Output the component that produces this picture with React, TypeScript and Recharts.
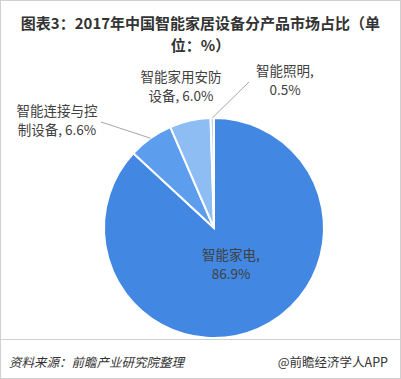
import { PieChart, Pie, Cell } from "recharts";

const categories = ["智能家电", "智能连接与控制设备", "智能家用安防设备", "智能照明"];
const shares = [86.9, 6.6, 6.0, 0.5];
const colors = ["#4288e2", "#5d9ded", "#8ebdf4", "#bcd7f8"];

// where each label sits relative to the pie centre, and where the text breaks
const labelLayout = [
  { dx: 17, dy: 35, split: 5, line: null },
  { dx: -157, dy: -109, split: 6, line: [-113, -106] },
  { dx: -33, dy: -143, split: 6, line: null },
  { dx: 71, dy: -149, split: 5, line: [35, -146] },
];

const data = categories.map((name, i) => ({ name, value: shares[i] }));

const FONT = '"Microsoft YaHei", "Noto Sans CJK SC", sans-serif';

const renderLabel = (p: any) => {
  const { cx, cy, midAngle, outerRadius, index } = p;
  const lay = labelLayout[index];
  const full = `${categories[index]}, ${shares[index].toFixed(1)}%`;
  const l1 = full.slice(0, lay.split).trim();
  const l2 = full.slice(lay.split).trim();
  const x = cx + lay.dx;
  const y = cy + lay.dy;
  const RAD = Math.PI / 180;
  let line = null;
  if (lay.line) {
    const sx = cx + outerRadius * Math.cos(-midAngle * RAD);
    const sy = cy + outerRadius * Math.sin(-midAngle * RAD);
    line = (
      <path
        d={`M${sx},${sy}L${cx + lay.line[0]},${cy + lay.line[1]}`}
        stroke="#a6a6a6"
        strokeWidth={1}
        fill="none"
      />
    );
  }
  return (
    <g key={`lbl-${index}`}>
      {line}
      <text x={x} y={y} textAnchor="middle" fontSize={13.5} fill="#404040" fontFamily={FONT}>
        <tspan x={x} dy="-0.2em">{l1}</tspan>
        <tspan x={x} dy="1.35em">{l2}</tspan>
      </text>
    </g>
  );
};

export default function App() {
  return (
    <div
      style={{
        position: "relative",
        width: 401,
        height: 379,
        boxSizing: "border-box",
        border: "1px solid #d0d0d0",
        background: "#fff",
        fontFamily: FONT,
        overflow: "hidden",
      }}
    >
      <style>{`body{margin:0}`}</style>
      <div
        style={{
          position: "absolute",
          top: 11,
          left: 0,
          width: 399,
          textAlign: "center",
          fontSize: 15,
          fontWeight: "bold",
          lineHeight: "22px",
          color: "#333",
        }}
      >
        图表3：2017年中国智能家居设备分产品市场占比（单
        <br />
        位：%）
      </div>
      <div style={{ position: "absolute", top: 0, left: -1 }}>
        <PieChart width={401} height={340} margin={{ top: 0, right: 0, bottom: 0, left: 0 }}>
          <Pie
            data={data}
            dataKey="value"
            nameKey="name"
            cx={214}
            cy={227}
            outerRadius={110}
            startAngle={90}
            endAngle={-270}
            stroke="#fff"
            strokeWidth={2}
            label={renderLabel}
            labelLine={false}
            isAnimationActive={false}
          >
            {data.map((d, i) => (
              <Cell key={d.name} fill={colors[i]} />
            ))}
          </Pie>
        </PieChart>
      </div>
      <div
        style={{
          position: "absolute",
          top: 338,
          left: 0,
          width: 399,
          borderTop: "1px solid #d0d0d0",
        }}
      />
      <div
        style={{
          position: "absolute",
          top: 352,
          left: 8,
          fontSize: 12.5,
          fontStyle: "italic",
          color: "#333",
          lineHeight: "18px",
        }}
      >
        资料来源：前瞻产业研究院整理
      </div>
      <div
        style={{
          position: "absolute",
          top: 352,
          right: 12,
          fontSize: 12.5,
          color: "#333",
          lineHeight: "18px",
        }}
      >
        @前瞻经济学人APP
      </div>
    </div>
  );
}
